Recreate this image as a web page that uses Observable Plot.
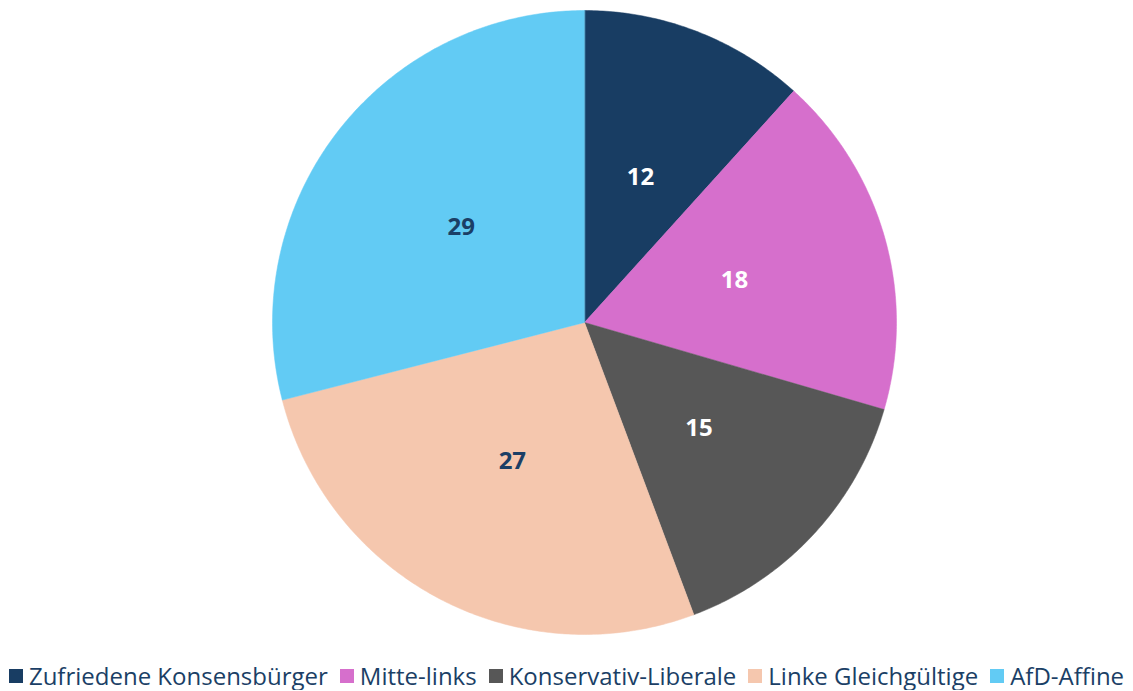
<!DOCTYPE html>
<html>
<head>
<meta charset="utf-8">
<script src="https://cdn.jsdelivr.net/npm/d3@7"></script>
<script src="https://cdn.jsdelivr.net/npm/@observablehq/plot@0.6"></script>
<style>
  body { margin: 0; background: #fff; font-family: "Open Sans", sans-serif; }
  #legend { display: flex; justify-content: center; gap: 12px; margin-top: 17px; font-size: 24px; color: #1b3f66; line-height: 28px; white-space: nowrap; }
  .item { display: flex; align-items: center; }
  .sw { width: 14px; height: 14px; margin-right: 6px; display: inline-block; }
</style>
</head>
<body>
<div id="chart"></div>
<div id="legend"></div>
<script>
const categories = ["Zufriedene Konsensbürger", "Mitte-links", "Konservativ-Liberale", "Linke Gleichgültige", "AfD-Affine"];
// slice shares (labels show the rounded values)
const values = [11.7, 17.8, 14.8, 26.7, 29.0];
const colors = ["#183d63", "#d66fcc", "#575757", "#f5c7ae", "#62cbf4"];
const labelColors = ["#ffffff", "#ffffff", "#ffffff", "#1b3f66", "#1b3f66"];

const arcs = d3.pie().sort(null).value(d => d)(values);
const points = [];
const labels = [];
arcs.forEach((a, i) => {
  points.push({key: categories[i], x: 0, y: 0});
  const n = Math.max(2, Math.ceil((a.endAngle - a.startAngle) / 0.01));
  for (let k = 0; k <= n; k++) {
    const t = a.startAngle + (a.endAngle - a.startAngle) * k / n;
    points.push({key: categories[i], x: Math.sin(t), y: Math.cos(t)});
  }
  const m = (a.startAngle + a.endAngle) / 2;
  labels.push({key: categories[i], v: Math.round(values[i]), x: 0.5 * Math.sin(m), y: 0.5 * Math.cos(m), c: labelColors[i]});
});

const plot = Plot.plot({
  width: 1133,
  height: 645,
  marginLeft: 272,
  marginRight: 237,
  marginTop: 10,
  marginBottom: 11,
  x: {domain: [-1, 1], axis: null},
  y: {domain: [-1, 1], axis: null},
  color: {domain: categories, range: colors},
  style: {fontFamily: "Open Sans, sans-serif", background: "white"},
  marks: [
    Plot.line(points, {x: "x", y: "y", z: "key", fill: "key", stroke: "key", strokeWidth: 0.5, curve: "linear-closed"}),
    Plot.text(labels, {x: "x", y: "y", text: "v", fill: d => d.c, fontSize: 24, fontWeight: "bold"})
  ]
});
document.getElementById("chart").appendChild(plot);

const legend = document.getElementById("legend");
categories.forEach((c, i) => {
  const it = document.createElement("span");
  it.className = "item";
  it.innerHTML = `<span class="sw" style="background:${colors[i]}"></span>${c}`;
  legend.appendChild(it);
});
</script>
</body>
</html>
